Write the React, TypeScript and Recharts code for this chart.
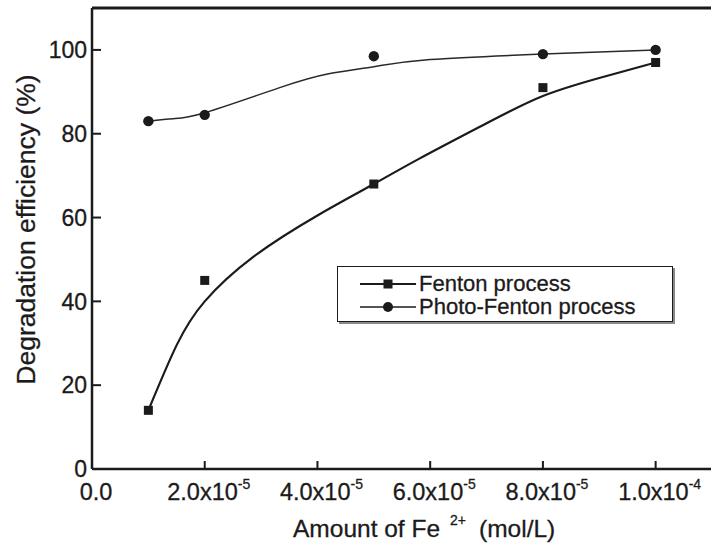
import React from "react";
import {
  ComposedChart,
  XAxis,
  YAxis,
  Line,
  Scatter,
  ReferenceLine,
  Label,
} from "recharts";

// ---- data ----
const xValues = [1e-5, 2e-5, 5e-5, 8e-5, 1e-4];
const fentonValues = [14, 45, 68, 91, 97];
const photoFentonValues = [83, 84.5, 98.5, 99, 100];

// fitted curves
const fentonFitX = [1e-5, 1.5e-5, 2e-5, 2.85e-5, 4e-5, 5e-5, 5.8e-5, 7e-5, 8e-5, 9e-5, 1e-4];
const fentonFitY = [14, 29.5, 40, 50.5, 60.5, 68, 74, 82.5, 89, 93.3, 97];
const photoFitX = [1e-5, 1.44e-5, 2e-5, 3.33e-5, 4.2e-5, 5e-5, 6e-5, 8e-5, 1e-4];
const photoFitY = [83, 83.6, 85, 91, 94.3, 96, 97.7, 99, 100];

const xTicks = [0, 2e-5, 4e-5, 6e-5, 8e-5, 1e-4];
const xTickMantissa = ["0.0", "2.0", "4.0", "6.0", "8.0", "1.0"];
const xTickExponent = ["", "-5", "-5", "-5", "-5", "-4"];
const yTicks = [0, 20, 40, 60, 80, 100];

const seriesNames = ["Fenton process", "Photo-Fenton process"];

const toPoints = (xs: number[], ys: number[]) => xs.map((x, i) => ({ x, y: ys[i] }));
const fentonPoints = toPoints(xValues, fentonValues);
const photoPoints = toPoints(xValues, photoFentonValues);
const fentonFit = toPoints(fentonFitX, fentonFitY);
const photoFit = toPoints(photoFitX, photoFitY);

const INK = "#1c1a1a";
const FONT = "'Liberation Sans', Arial, Helvetica, sans-serif";

const XTick = (props: any) => {
  const { x, y, payload, index } = props;
  const i = xTicks.indexOf(payload.value);
  const idx = i >= 0 ? i : index;
  const mant = xTickMantissa[idx];
  const exp = xTickExponent[idx];
  return (
    <g>
      <line x1={x} y1={y} x2={x} y2={y - 8} stroke={INK} strokeWidth={2} />
      <text
        x={x + 4}
        y={y + 31}
        textAnchor="middle"
        fontSize={23.5}
        fontFamily={FONT}
        fill={INK}
        stroke={INK}
        strokeWidth={0.3}
      >
        {mant}
        {exp ? "x10" : null}
        {exp ? (
          <tspan dy={-11} fontSize={14}>
            {exp}
          </tspan>
        ) : null}
      </text>
    </g>
  );
};

const YTick = (props: any) => {
  const { x, y, payload } = props;
  return (
    <g>
      <line x1={x} y1={y} x2={x + 9} y2={y} stroke={INK} strokeWidth={2} />
      <text
        x={x - 5}
        y={y}
        dy="0.36em"
        textAnchor="end"
        fontSize={23}
        fontFamily={FONT}
        fill={INK}
        stroke={INK}
        strokeWidth={0.3}
      >
        {payload.value}
      </text>
    </g>
  );
};

const YLabel = (props: any) => {
  const vb = props.viewBox || { x: 0, y: 8, width: 92, height: 461 };
  const cx = vb.x + 26;
  const cy = vb.y + vb.height / 2 - 9;
  return (
    <text
      x={cx}
      y={cy}
      transform={`rotate(-90 ${cx} ${cy})`}
      textAnchor="middle"
      dominantBaseline="central"
      fontSize={26.5}
      fontFamily={FONT}
      fill={INK}
      stroke={INK}
      strokeWidth={0.3}
    >
      Degradation efficiency (%)
    </text>
  );
};

const XLabel = (props: any) => {
  const vb = props.viewBox || { x: 92, y: 469, width: 620, height: 81 };
  const sx = vb.x + 201;
  const by = vb.y + 68;
  return (
    <text
      x={sx}
      y={by}
      fontSize={24.5}
      fontFamily={FONT}
      fill={INK}
      stroke={INK}
      strokeWidth={0.3}
    >
      Amount of Fe
      <tspan dx={10} dy={-12} fontSize={14}>
        2+
      </tspan>
      <tspan dx={13} dy={12}>
        (mol/L)
      </tspan>
    </text>
  );
};

const SquareMark = (props: any) => {
  const { cx, cy } = props;
  return <rect x={cx - 4.5} y={cy - 4.5} width={9} height={9} fill={INK} />;
};
const CircleMark = (props: any) => {
  const { cx, cy } = props;
  return <circle cx={cx} cy={cy} r={5.2} fill={INK} />;
};

const LegendBox = () => (
  <div
    style={{
      position: "absolute",
      left: 337,
      top: 266,
      width: 334,
      height: 54,
      border: `1.5px solid ${INK}`,
      boxShadow: "2px 2px 0 #8a8a8a",
      background: "#fff",
      fontFamily: FONT,
      fontSize: 22,
      color: INK,
      WebkitTextStroke: "0.3px " + INK,
    }}
  >
    {seriesNames.map((name, i) => (
      <div
        key={name}
        style={{
          position: "absolute",
          left: 22,
          top: 5 + i * 23,
          height: 23,
          display: "flex",
          alignItems: "center",
          whiteSpace: "nowrap",
        }}
      >
        <svg width={56} height={20} style={{ marginRight: 3 }}>
          <line x1={0} y1={10} x2={56} y2={10} stroke={INK} strokeWidth={i === 0 ? 1.8 : 1.4} />
          {i === 0 ? (
            <rect x={23.5} y={5.5} width={9} height={9} fill={INK} />
          ) : (
            <circle cx={28} cy={10} r={5} fill={INK} />
          )}
        </svg>
        <span>{name}</span>
      </div>
    ))}
  </div>
);

export default function App() {
  return (
    <div
      style={{
        position: "absolute",
        left: 0,
        top: 0,
        width: 711,
        height: 550,
        overflow: "hidden",
        background: "#fff",
      }}
    >
      <ComposedChart
        width={714}
        height={550}
        margin={{ top: 8, right: 2, bottom: 0, left: 0 }}
      >
        <XAxis
          type="number"
          dataKey="x"
          domain={[0, 1.1e-4]}
          ticks={xTicks}
          tick={<XTick />}
          tickSize={0}
          tickMargin={0}
          tickLine={false}
          axisLine={{ stroke: INK, strokeWidth: 2.5 }}
          height={81}
          interval={0}
          allowDataOverflow
        >
          <Label content={<XLabel />} />
        </XAxis>
        <YAxis
          type="number"
          dataKey="y"
          domain={[0, 110]}
          ticks={yTicks}
          tick={<YTick />}
          tickSize={0}
          tickMargin={0}
          tickLine={false}
          axisLine={{ stroke: INK, strokeWidth: 2.5 }}
          width={92}
          interval={0}
          allowDataOverflow
        >
          <Label content={<YLabel />} />
        </YAxis>
        <ReferenceLine y={110} stroke={INK} strokeWidth={3} />
        <Line
          data={fentonFit}
          dataKey="y"
          type="natural"
          stroke={INK}
          strokeWidth={2.2}
          dot={false}
          activeDot={false}
          isAnimationActive={false}
          legendType="none"
        />
        <Line
          data={photoFit}
          dataKey="y"
          type="natural"
          stroke="#2a2828"
          strokeWidth={1.5}
          dot={false}
          activeDot={false}
          isAnimationActive={false}
          legendType="none"
        />
        <Scatter
          name={seriesNames[0]}
          data={fentonPoints}
          dataKey="y"
          shape={<SquareMark />}
          isAnimationActive={false}
        />
        <Scatter
          name={seriesNames[1]}
          data={photoPoints}
          dataKey="y"
          shape={<CircleMark />}
          isAnimationActive={false}
        />
      </ComposedChart>
      <LegendBox />
    </div>
  );
}
